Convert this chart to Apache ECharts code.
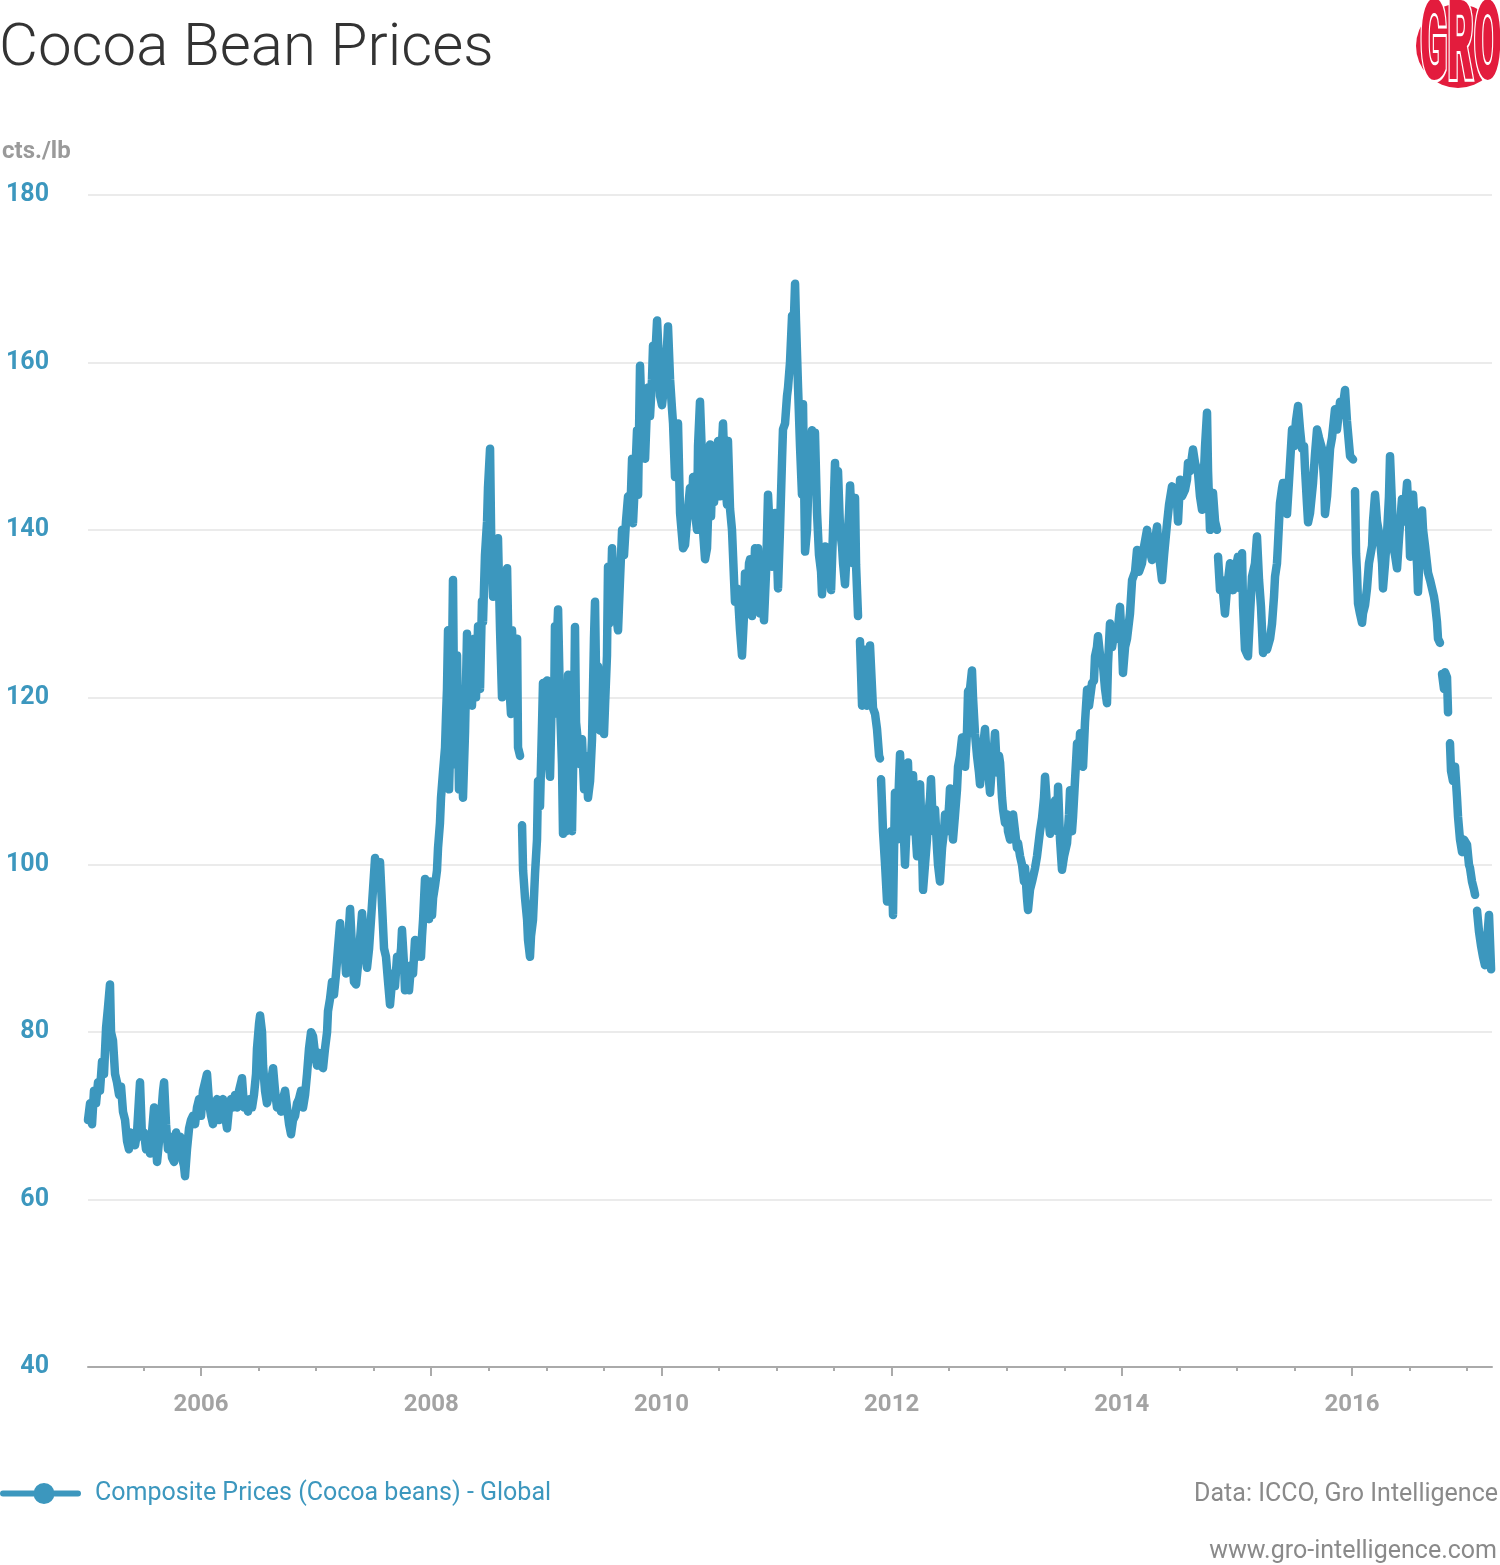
<!DOCTYPE html>
<html>
<head>
<meta charset="utf-8">
<script src="https://cdn.jsdelivr.net/npm/echarts@6/dist/echarts.min.js"></script>
<style>
html,body{margin:0;padding:0;background:#fff;}
#chart{width:1500px;height:1565px;}
</style>
</head>
<body>
<div id="chart"></div>
<script>
// Decimal years (x)
const years = [
2005.018,2005.036,2005.053,2005.070,2005.088,2005.105,2005.122,2005.140,2005.157,2005.175,2005.192,2005.209,2005.218,2005.235,2005.253,2005.270,2005.288,
2005.305,2005.322,2005.340,2005.357,2005.374,2005.392,2005.409,2005.427,2005.444,2005.461,2005.470,2005.487,2005.505,2005.522,2005.540,2005.557,2005.574,
2005.592,2005.600,2005.618,2005.635,2005.653,2005.670,2005.679,2005.696,2005.713,2005.731,2005.748,2005.766,2005.783,2005.800,2005.818,2005.835,2005.852,
2005.861,2005.878,2005.896,2005.913,2005.930,2005.948,2005.965,2005.983,2006.000,2006.017,2006.035,2006.052,2006.070,2006.087,2006.104,2006.122,2006.139,
2006.156,2006.174,2006.191,2006.209,2006.226,2006.243,2006.261,2006.278,2006.295,2006.313,2006.330,2006.348,2006.356,2006.374,2006.391,2006.408,2006.426,
2006.443,2006.460,2006.478,2006.486,2006.504,2006.513,2006.530,2006.539,2006.556,2006.573,2006.591,2006.608,2006.626,2006.643,2006.660,2006.678,2006.695,
2006.712,2006.730,2006.747,2006.765,2006.782,2006.799,2006.817,2006.834,2006.851,2006.869,2006.886,2006.904,2006.921,2006.938,2006.956,2006.973,2006.990,
2007.008,2007.025,2007.043,2007.060,2007.077,2007.095,2007.103,2007.121,
2007.138,2007.155,2007.173,2007.190,2007.208,2007.225,2007.242,2007.260,2007.277,2007.295,2007.312,2007.329,2007.347,2007.364,2007.381,2007.399,2007.416,
2007.434,2007.442,2007.460,2007.477,2007.494,2007.512,2007.529,2007.547,2007.555,2007.573,2007.590,2007.607,2007.625,2007.642,2007.659,2007.668,2007.685,
2007.703,2007.720,2007.738,2007.746,2007.764,2007.772,2007.790,2007.807,2007.825,2007.842,2007.859,2007.877,2007.894,2007.911,2007.920,2007.929,2007.946,
2007.964,2007.981,2007.990,2008.007,2008.016,2008.033,2008.050,2008.059,2008.076,2008.085,2008.102,2008.120,2008.129,2008.137,2008.146,2008.155,2008.172,
2008.181,2008.189,2008.198,2008.207,2008.224,2008.241,2008.259,2008.276,2008.294,2008.311,2008.320,2008.337,2008.354,2008.372,2008.389,2008.407,2008.424,
2008.441,2008.450,2008.467,2008.485,2008.493,2008.511,2008.520,2008.537,2008.554,2008.572,2008.580,2008.598,2008.615,2008.633,2008.650,2008.659,2008.676,
2008.693,2008.702,2008.720,2008.728,2008.746,2008.754,2008.772,2008.780,2008.789,2008.798,2008.815,2008.833,2008.841,2008.858,2008.867,2008.884,2008.902,
2008.919,2008.928,2008.945,2008.963,2008.971,2008.989,2009.006,2009.023,2009.032,2009.050,2009.067,2009.075,2009.084,2009.102,2009.119,2009.136,2009.145,
2009.162,2009.171,2009.189,
2009.206,2009.223,2009.241,2009.249,2009.258,2009.275,2009.293,2009.310,2009.328,2009.345,2009.362,2009.380,2009.397,2009.414,2009.423,2009.432,2009.449,
2009.467,2009.484,2009.501,2009.510,2009.527,2009.536,2009.545,2009.562,2009.571,2009.588,2009.605,2009.623,2009.640,2009.658,2009.675,2009.692,2009.710,
2009.727,2009.745,2009.753,2009.771,2009.788,2009.797,2009.814,2009.823,2009.840,2009.858,2009.875,2009.884,2009.901,2009.918,2009.927,2009.944,2009.962,
2009.979,2009.988,2010.005,2010.022,2010.031,2010.049,2010.057,2010.075,2010.092,2010.101,2010.118,2010.136,2010.144,2010.162,2010.179,2010.188,2010.205,
2010.222,2010.231,2010.248,2010.266,2010.275,2010.292,2010.309,2010.318,2010.335,2010.353,2010.361,2010.379,2010.396,2010.413,2010.422,2010.431,2010.448,
2010.457,2010.474,2010.492,2010.509,2010.518,2010.535,2010.552,2010.570,2010.578,2010.596,2010.613,2010.631,2010.639,2010.657,2010.665,2010.683,2010.700,
2010.718,2010.726,2010.744,2010.761,2010.770,2010.787,2010.804,2010.813,2010.831,2010.839,2010.857,2010.874,2010.891,2010.909,2010.926,2010.944,2010.961,
2010.978,2010.987,2011.004,2011.013,2011.030,2011.048,2011.056,2011.074,2011.091,2011.100,2011.117,2011.135,2011.143,2011.161,2011.169,2011.187,2011.204,
2011.221,2011.230,2011.248,2011.265,
2011.282,2011.308,2011.326,2011.334,2011.352,2011.369,2011.387,2011.395,2011.412,2011.421,2011.439,2011.456,2011.474,2011.491,2011.508,2011.517,2011.534,
2011.552,2011.569,2011.578,2011.595,2011.612,2011.630,2011.639,2011.656,2011.665,2011.682,2011.691,2011.708,2011.716,2011.725,2011.734,2011.743,2011.760,
2011.769,2011.786,2011.804,2011.812,2011.830,2011.838,2011.856,2011.873,2011.891,2011.899,2011.903,2011.908,2011.917,2011.925,2011.943,2011.960,2011.977,
2011.995,2012.012,2012.029,2012.047,2012.064,2012.073,2012.090,2012.108,2012.116,2012.134,2012.142,2012.160,2012.177,2012.186,2012.203,2012.221,2012.229,
2012.247,2012.264,2012.273,2012.290,2012.307,2012.316,2012.334,2012.342,2012.360,2012.377,2012.394,2012.403,2012.420,2012.438,2012.455,2012.464,2012.481,
2012.499,2012.507,2012.525,2012.533,2012.551,2012.568,2012.577,2012.594,2012.612,2012.620,2012.638,2012.655,2012.664,2012.681,2012.698,2012.707,2012.724,
2012.742,2012.759,2012.768,2012.785,2012.811,2012.829,2012.846,2012.855,2012.872,2012.890,2012.898,2012.916,2012.933,2012.942,2012.959,2012.968,2012.985,
2013.002,2013.011,2013.029,2013.046,2013.055,2013.072,2013.089,2013.098,2013.116,2013.133,2013.150,2013.159,2013.176,2013.185,2013.202,2013.220,2013.246,
2013.263,2013.289,2013.307,2013.324,2013.333,
2013.350,2013.376,2013.394,2013.420,2013.437,2013.446,2013.463,2013.480,2013.498,2013.524,2013.541,2013.550,2013.567,2013.576,2013.593,2013.611,2013.628,
2013.637,2013.654,2013.663,2013.680,2013.698,2013.715,2013.741,2013.758,2013.767,2013.784,2013.793,2013.811,2013.837,2013.854,2013.871,2013.880,2013.897,
2013.915,2013.941,2013.958,2013.984,2014.002,2014.010,2014.028,2014.045,2014.071,2014.089,2014.115,2014.132,2014.149,2014.175,2014.193,2014.219,2014.236,
2014.262,2014.280,2014.306,2014.323,2014.349,2014.367,2014.393,2014.410,2014.436,2014.454,2014.480,2014.488,2014.506,2014.523,2014.549,2014.566,2014.575,
2014.592,2014.618,2014.636,2014.662,2014.679,2014.697,2014.714,2014.723,2014.740,2014.749,2014.766,2014.784,2014.792,2014.810,2014.827,2014.831,2014.836,
2014.853,2014.870,2014.896,2014.914,2014.940,2014.957,2014.966,2014.983,2015.009,2015.027,2015.044,2015.053,2015.070,2015.096,2015.114,2015.131,2015.157,
2015.174,2015.192,2015.209,2015.227,2015.244,2015.261,2015.288,2015.305,2015.322,2015.331,2015.348,2015.357,2015.374,2015.392,2015.400,
2015.418,2015.435,2015.453,2015.479,2015.496,2015.513,2015.531,2015.548,2015.565,2015.583,2015.591,2015.609,2015.618,2015.635,2015.661,2015.678,2015.696,
2015.713,2015.739,2015.757,2015.765,2015.783,2015.809,2015.826,2015.852,2015.869,2015.896,2015.913,2015.939,2015.956,2015.983,2016.000,2016.009,2016.017,
2016.026,2016.035,2016.043,2016.052,2016.069,2016.087,2016.095,2016.113,2016.130,2016.147,2016.174,2016.182,2016.200,2016.217,2016.243,2016.261,2016.269,
2016.287,2016.304,2016.321,2016.330,2016.347,2016.356,2016.373,2016.391,2016.408,2016.434,2016.452,2016.478,2016.495,2016.504,2016.521,2016.530,2016.547,
2016.565,2016.573,2016.591,2016.608,2016.617,2016.634,2016.651,2016.660,2016.678,2016.695,2016.712,2016.721,2016.738,2016.747,2016.764,2016.773,2016.782,
2016.799,2016.808,2016.825,2016.834,2016.843,2016.851,2016.860,2016.877,2016.895,2016.912,2016.921,2016.938,2016.956,2016.973,2016.999,2017.016,2017.025,
2017.042,2017.060,2017.069,2017.077,2017.086,2017.103,2017.121,2017.138,2017.155,2017.173,2017.190,2017.208
];
// Composite price, cts./lb (null = gap in the series)
const prices = [
69.5,71.5,69,73,71.5,74,73,76.5,75,80.5,83,85.7,80,79,75,74,72.5,
73.5,70.5,69.5,67,66,68,67,66.5,68,72,74,67.5,68,66,67.5,65.5,68,
71,69,64.5,67,70,73,74,69,66,67.5,65,64.5,68,66,67.5,65,64,
62.8,66,68.5,69.5,70,69,71,72,70,73,74,75,71.5,70,69,70.5,72,
69.5,71,72,70,68.5,71,72,71,72.5,71,73,74,74.5,71,72,70.5,72,
71,72.5,75,78,81,82,80,76,73,71.5,72.5,74,75.7,73,71,72,70.5,
72,73,71,69,67.8,69.5,70,71.5,72,73,71,72.5,75,78,80,79.5,77.5,
76,77.5,76,75.7,78,80,82.5,84,
86,84.5,87,90,93,89,91,87,90.5,94.7,90,86,85.7,88,91,94.2,91,
89,87.7,90,93.5,97,100.8,99,98,100.3,95,90,89,86,83.3,86,87,85.5,
89,88,90,92.2,88,85,86.5,85,88,87,91,89,90.5,89,91.5,93.4,98.3,
95,93.5,98,94,96,97.5,99.3,102,105,108,111,114,118,121,128,109,118,
125,134,120,112,125,109,118,108,116,127.6,120,125,119,127,120,128.5,121,
131.5,129,137,141,145,149.7,140,132,138,135,139,128,120,127.6,126.6,135.4,122,
118,128,120,125,127,114,113,null,104.7,99.3,96,93.4,91,89,91.5,93.4,99,
103,110,107,117,121.7,116,122,112,110.5,121.7,118,128.5,124,130.5,119,112,103.7,
109,104,122.7,
112,104,118,128.4,117,116.8,112,115,109,113,108,110,115,127,131.4,122.8,123.7,
116,120,115.6,119,125,135.6,128.8,133,137.8,131,130,128,134,140,137,141,144,
141,148.5,140.8,146,151.9,144.2,159.6,155.7,150,148.5,155,157,153.6,158,162,160,165,
160,156,154.9,157,158.7,162,164.3,158,154.4,152.7,146.3,150,152.7,142,142,137.8,138.2,
141,142.5,145,143,146.3,142,140,150,155.3,148.5,140,136.5,137.8,145,150.2,141.6,148.5,
143.3,146,150.6,144,148,152.7,146,143,150.6,142.5,140,134,131.4,133,132.2,128,125,
130,134.8,131,136,136.5,129.7,134,137.8,131,137.8,130,136,129.2,135,144.2,139,135.6,
138,142,137,133,140,148.5,152,152.7,156,157,160,165.6,162,169.4,165,157,150,
144.2,155,137.4,140,
148,151.9,146,151.6,142,137,135,132.3,136,138,134,137,132.8,140,148,144,147,
140,138,136,133.5,138,142,145.3,140,136,143.8,135.8,129.7,null,126.7,123,119,125.7,
122,119,124,126.2,121,118.7,118,116.2,113,112.7,null,110.2,107,104,100,95.6,99,
104,94,108.6,103,110,113.2,107,103,100,106,112.2,104,108,110.7,105,101,108,
109.6,102,97,100,103,105.6,108,110.2,104,106.6,102,100,98,102,104,106,104,
107,109.1,105,103,106,109,111.7,113,115.2,113,111.7,116,120.7,121,123.2,120,115.7,
113,111,109.6,113,116.2,112,110,108.6,112,114,115.7,111,113,112.2,108,106.6,105,
106,104,103,105,106,104,102,102.6,101,100,98,99.6,96,94.6,97,98,99.6,
101,104,105.6,108,110.5,
107,103.7,106,107.7,104,109.3,103,99.4,101,102.6,106,108.9,104,105.7,110,114.5,113,
115.7,112,111.7,117,120.9,119,121.7,122,124.9,126,127.3,125,123.7,121,119.3,124,128.8,
126,128.4,127,130.8,126,122.9,126,127,130,134,135,137.6,135,136,138,140,138,
136.4,138,140.4,137,134,137,140.8,143,145.2,144,143.2,141,146,144,144.8,146,148,
147,149.6,148,146.8,144,142.4,147,150,154,147,140,142,144.4,141,140,null,136.8,
132.8,134,130,133,136,134,132.8,135,136.8,133,137.2,131,125.7,124.9,130,134.4,136,
139.2,134,130.8,125.3,127,125.7,127,128.8,132,134.4,136,138.4,143.2,145,145.6,
145.6,141.9,146,152,150,153,154.8,152,149.7,150,147.4,143,140.9,142,145.6,149,152,
151,149.7,146,141.9,144,149.7,151,154.4,152,155.3,154,156.7,153,148.8,149,148.4,null,
144.6,137.2,134.9,131.2,130,128.9,130,131,133,136,138.1,141,144.2,141,139,136,133,
136,139.5,144,148.8,143,138.1,137,135.4,139,143.7,141,145.6,141,136.8,140,144.2,140,
135.8,132.6,138,142.3,140,138.1,136,134.9,134,134,132,131.2,129,127,126.5,null,122.8,
121,123,122.4,118.2,null,114.5,111.2,110,111.7,108,105.7,103,101.5,103,102.4,100,99.6,
98,97,96.4,null,94.5,92,90.3,89,88,91,94,87.5
];
const yearTicks = [2006, 2008, 2010, 2012, 2014, 2016];
const halfYearTicks = [2005.5, 2006.5, 2007, 2007.5, 2008.5, 2009, 2009.5, 2010.5, 2011, 2011.5, 2012.5, 2013, 2013.5, 2014.5, 2015, 2015.5, 2016.5, 2017];
const seriesName = 'Composite Prices (Cocoa beans) - Global';

const BLUE = '#3c97be';
const FONT = 'Roboto, "Noto Sans", sans-serif';
const xMin = 2005.018, xMax = 2017.216;

const data = years.map((y, i) => [y, prices[i] === null ? '-' : prices[i]]);

const chart = echarts.init(document.getElementById('chart'), null, {renderer: 'canvas'});
chart.setOption({
  animation: false,
  backgroundColor: '#ffffff',
  textStyle: {fontFamily: FONT},
  title: [
    {text: 'Cocoa Bean Prices', left: -1, top: 20, padding: 0,
     textStyle: {fontFamily: FONT, fontSize: 60, fontWeight: 300, color: '#333333'}},
    {text: 'cts./lb', left: 2, top: 140, padding: 0,
     textStyle: {fontFamily: FONT, fontSize: 24, fontWeight: 'bold', color: '#9a9a9a'}},
    {text: 'Data: ICCO, Gro Intelligence', right: 2, top: 1482, padding: 0,
     textStyle: {fontFamily: FONT, fontSize: 25, fontWeight: 'normal', color: '#8a8a8a'}},
    {text: 'www.gro-intelligence.com', right: 3, top: 1539, padding: 0,
     textStyle: {fontFamily: FONT, fontSize: 25, fontWeight: 'normal', color: '#8a8a8a'}}
  ],
  legend: {
    left: 0, top: 1481, padding: 0,
    itemWidth: 81, itemHeight: 21,
    icon: 'path://M3,7.5 L78,7.5 A3,3 0 0 1 78,13.5 L3,13.5 A3,3 0 0 1 3,7.5 Z M54.5,10.5 A10.5,10.5 0 1 1 33.5,10.5 A10.5,10.5 0 1 1 54.5,10.5 Z',
    itemStyle: {color: BLUE, borderWidth: 0},
    textStyle: {fontFamily: FONT, fontSize: 25, color: BLUE, padding: [0, 0, 0, 9]},
    data: [seriesName]
  },
  grid: [
    {left: 88, right: 8, top: 195, bottom: 198},
    {left: 88, right: 8, top: 195, bottom: 198}
  ],
  xAxis: [
    {
      type: 'value', gridIndex: 0, min: xMin, max: xMax,
      axisLine: {show: true, lineStyle: {color: '#aaaaaa', width: 2}},
      axisTick: {show: true, customValues: yearTicks, length: 9, lineStyle: {color: '#aaaaaa', width: 2}},
      axisLabel: {show: true, customValues: yearTicks, margin: 26, formatter: v => String(Math.round(v)),
        fontFamily: FONT, fontSize: 24, fontWeight: 'bold', color: '#a3a3a3'},
      splitLine: {show: false}
    },
    {
      type: 'value', gridIndex: 1, min: xMin, max: xMax,
      axisLine: {show: false},
      axisTick: {show: true, customValues: halfYearTicks, length: 4, lineStyle: {color: '#aaaaaa', width: 2}},
      axisLabel: {show: false},
      splitLine: {show: false}
    }
  ],
  yAxis: [
    {
      type: 'value', gridIndex: 0, min: 40, max: 180, interval: 20,
      axisLine: {show: false}, axisTick: {show: false},
      axisLabel: {margin: 39, fontFamily: FONT, fontSize: 25, fontWeight: 'bold', color: BLUE},
      splitLine: {show: true, lineStyle: {color: '#ebebeb', width: 2}}
    },
    {type: 'value', gridIndex: 1, min: 0, max: 1, show: false}
  ],
  series: [{
    name: seriesName,
    type: 'line',
    xAxisIndex: 0, yAxisIndex: 0,
    data: data,
    showSymbol: false,
    connectNulls: false,
    color: BLUE,
    itemStyle: {color: BLUE},
    lineStyle: {color: BLUE, width: 8.5, cap: 'round', join: 'round'}
  }],
  graphic: [
    {
      type: 'circle', shape: {cx: 1458, cy: 46, r: 42},
      style: {fill: '#e31c3d'}
    },
    {
      type: 'text',
      left: 1419, top: -8,
      style: {
        text: 'GRO',
        font: '900 112px "Roboto", "DejaVu Sans", sans-serif',
        fill: '#e31c3d',
        stroke: '#ffffff',
        lineWidth: 6
      },
      scaleX: 0.36
    }
  ]
});
</script>
</body>
</html>
